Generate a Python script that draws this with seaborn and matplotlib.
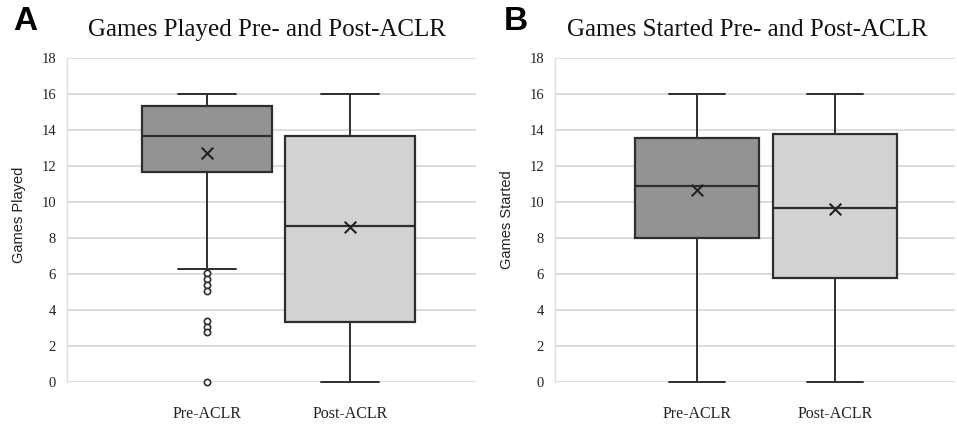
import matplotlib
matplotlib.use("Agg")
import matplotlib.pyplot as plt
import seaborn as sns
import pandas as pd

# ---- data ----
categories = ["Pre-ACLR", "Post-ACLR"]

played_whislo = [6.3, 0.0]
played_q1 = [11.65, 3.35]
played_med = [13.68, 8.68]
played_q3 = [15.35, 13.68]
played_whishi = [16.0, 16.0]
played_mean = [12.7, 8.6]
played_outliers_pre = [6.04, 5.72, 5.41, 5.07, 3.4, 3.07, 2.76, 0.0]

started_whislo = [0.0, 0.0]
started_q1 = [8.02, 5.76]
started_med = [10.89, 9.65]
started_q3 = [13.54, 13.78]
started_whishi = [16.0, 16.0]
started_mean = [10.67, 9.61]

yticks = [0, 2, 4, 6, 8, 10, 12, 14, 16, 18]

box_colors = ["#939393", "#d2d2d2"]
edge = "#2e2e2e"

sns.set_style("white")
plt.rcParams["font.family"] = ["Liberation Serif", "DejaVu Serif"]

fig = plt.figure(figsize=(9.57, 4.25), dpi=100)
W, H = 957, 425


def px_axes(left, right, top, bottom):
    return fig.add_axes([left / W, 1 - bottom / H, (right - left) / W, (bottom - top) / H])


def draw_panel(ax, whislo, q1, med, q3, whishi, means, fliers, xlim, width):
    stats = []
    for i in range(len(categories)):
        stats.append(dict(label=categories[i], whislo=whislo[i], q1=q1[i], med=med[i],
                          q3=q3[i], whishi=whishi[i], fliers=fliers[i]))
    bp = ax.bxp(stats, positions=list(range(len(categories))), widths=width,
                patch_artist=True, showfliers=True, manage_ticks=False,
                boxprops=dict(edgecolor=edge, linewidth=1.6),
                medianprops=dict(color=edge, linewidth=1.6),
                whiskerprops=dict(color=edge, linewidth=1.4),
                capprops=dict(color=edge, linewidth=1.4),
                capwidths=0.4,
                flierprops=dict(marker="o", markersize=4.5, markerfacecolor="white",
                                markeredgecolor=edge, markeredgewidth=1.2))
    for patch, c in zip(bp["boxes"], box_colors):
        patch.set_facecolor(c)
    for art in bp["fliers"] + bp["caps"] + bp["whiskers"]:
        art.set_clip_on(False)
    mdf = pd.DataFrame({"x": list(range(len(categories))), "y": means})
    sns.scatterplot(data=mdf, x="x", y="y", marker="x", s=70, color="#222222",
                    linewidth=1.5, ax=ax, zorder=5, legend=False)
    ax.set_xlim(*xlim)
    ax.set_ylim(0, 18)
    ax.set_yticks(yticks)
    ax.set_yticklabels([str(t) for t in yticks], fontsize=10.5, color="#222222")
    ax.set_xticks(list(range(len(categories))))
    ax.set_xticklabels(categories, fontsize=11.5, color="#222222")
    ax.tick_params(axis="x", length=0, pad=17)
    ax.tick_params(axis="y", length=0, pad=8)
    ax.grid(axis="y", color="#dcdcdc", linewidth=1.4)
    ax.set_axisbelow(True)
    for s in ["top", "right", "bottom"]:
        ax.spines[s].set_visible(False)
    ax.spines["left"].set_color("#dcdcdc")
    ax.spines["left"].set_linewidth(1.0)
    ax.set_xlabel("")
    ax.set_ylabel("")


axA = px_axes(67, 476, 58, 382)
draw_panel(axA, played_whislo, played_q1, played_med, played_q3, played_whishi,
           played_mean, [played_outliers_pre, []], (-0.979, 1.881), 0.91)

axB = px_axes(555, 955, 58, 382)
draw_panel(axB, started_whislo, started_q1, started_med, started_q3, started_whishi,
           started_mean, [[], []], (-1.029, 1.870), 0.905)

# titles and labels
fig.text(267 / W, 1 - 30 / H, "Games Played Pre- and Post-ACLR", ha="center", va="center",
         fontsize=18, color="#111111")
fig.text(747 / W, 1 - 30 / H, "Games Started Pre- and Post-ACLR", ha="center", va="center",
         fontsize=18, color="#111111")
fig.text(25 / W, 1 - 22 / H, "A", ha="center", va="center", fontsize=24, fontweight="bold",
         family=["Liberation Sans", "DejaVu Sans"], color="black")
fig.text(516 / W, 1 - 22 / H, "B", ha="center", va="center", fontsize=24, fontweight="bold",
         family=["Liberation Sans", "DejaVu Sans"], color="black")
fig.text(19 / W, 1 - 215 / H, "Games Played", rotation=90, ha="center", va="center",
         fontsize=10.5, family=["Liberation Sans", "DejaVu Sans"], color="#222222")
fig.text(507 / W, 1 - 220 / H, "Games Started", rotation=90, ha="center", va="center",
         fontsize=10.5, family=["Liberation Sans", "DejaVu Sans"], color="#222222")

fig.savefig("out.png", dpi=100)
